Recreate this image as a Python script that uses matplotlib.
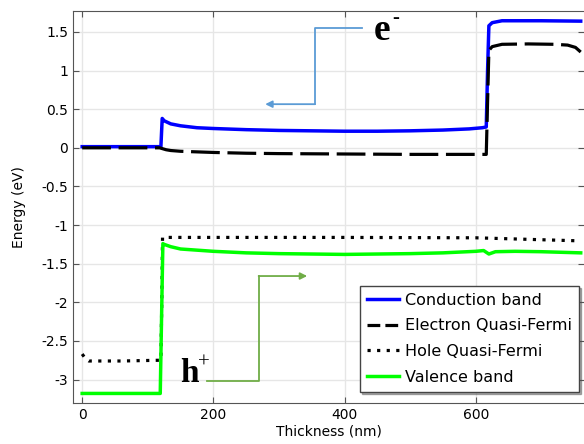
import matplotlib
matplotlib.use("Agg")
import matplotlib.pyplot as plt

plt.rcParams['font.family'] = 'DejaVu Sans'

# Band diagram values (thickness in nm, energy in eV)
cb_x = [0, 50, 100, 120, 121, 122, 125, 135, 150, 175, 200, 250, 300, 350, 400,
        450, 500, 550, 590, 610, 616, 618, 620, 625, 640, 700, 760]
cb_y = [0.015, 0.015, 0.015, 0.015, 0.2, 0.38, 0.35, 0.31, 0.285, 0.26, 0.25,
        0.235, 0.225, 0.22, 0.215, 0.215, 0.22, 0.23, 0.245, 0.26, 0.27, 1.0,
        1.58, 1.62, 1.645, 1.645, 1.64]

efn_x = [0, 50, 100, 118, 122, 128, 135, 150, 200, 250, 300, 400, 500, 616,
         618, 620, 625, 640, 680, 720, 740, 752, 760]
efn_y = [0.0, 0.0, 0.0, 0.0, -0.01, -0.025, -0.035, -0.045, -0.06, -0.07,
         -0.075, -0.08, -0.085, -0.085, 0.6, 1.26, 1.31, 1.34, 1.345, 1.34,
         1.33, 1.3, 1.24]

efp_x = [0, 5, 10, 60, 120, 121.5, 122.5, 200, 400, 600, 700, 760]
efp_y = [-2.67, -2.73, -2.76, -2.76, -2.75, -1.9, -1.16, -1.16, -1.16, -1.165,
         -1.19, -1.205]

vb_x = [0, 50, 100, 119, 121, 123, 125, 135, 150, 200, 250, 300, 400, 500, 550,
        600, 612, 620, 630, 660, 700, 760]
vb_y = [-3.18, -3.18, -3.18, -3.18, -2.2, -1.24, -1.25, -1.28, -1.31, -1.34,
        -1.36, -1.37, -1.38, -1.37, -1.36, -1.34, -1.33, -1.375, -1.345,
        -1.34, -1.345, -1.36]

# Carrier annotation paths (data coords)
e_path_x = [427, 355, 355]
e_path_y = [1.55, 1.55, 0.565]
e_arrow_end = (279, 0.565)
h_path_x = [191, 269, 269]
h_path_y = [-3.02, -3.02, -1.66]
h_arrow_end = (343, -1.66)

fig = plt.figure(figsize=(5.84, 4.44), dpi=100)
ax = fig.add_axes([0.125, 0.093, 0.875, 0.882])

ax.plot(cb_x, cb_y, color='#0000ff', lw=2.5, label='Conduction band', zorder=3)
ax.plot(efn_x, efn_y, color='black', lw=2.3, ls=(0, (9, 2.4)),
        label='Electron Quasi-Fermi', zorder=4)
ax.plot(efp_x, efp_y, color='black', lw=2.3, ls=(0, (1, 2)),
        label='Hole Quasi-Fermi', zorder=3)
ax.plot(vb_x, vb_y, color='#00ff00', lw=2.5, label='Valence band', zorder=4)

serif = dict(family='Liberation Serif', weight='bold')

# electron arrow
ax.plot(e_path_x, e_path_y, color='#5b9bd5', lw=1.3, zorder=2)
ax.annotate('', xy=e_arrow_end, xytext=(e_path_x[-1], e_path_y[-1]),
            arrowprops=dict(arrowstyle='-|>', color='#5b9bd5', lw=1.3,
                            mutation_scale=10, shrinkA=0, shrinkB=0))
ax.annotate('e', xy=(e_path_x[0], e_path_y[0]), xytext=(8, -2),
            textcoords='offset points', fontsize=27, va='center', ha='left',
            **serif)
ax.annotate('-', xy=(e_path_x[0], e_path_y[0]), xytext=(21.5, 7),
            textcoords='offset points', fontsize=15, va='center', ha='left',
            **serif)

# hole arrow
ax.plot(h_path_x, h_path_y, color='#70ad47', lw=1.3, zorder=2)
ax.annotate('', xy=h_arrow_end, xytext=(h_path_x[-1], h_path_y[-1]),
            arrowprops=dict(arrowstyle='-|>', color='#70ad47', lw=1.3,
                            mutation_scale=10, shrinkA=0, shrinkB=0))
ax.annotate('h', xy=(h_path_x[0], h_path_y[0]), xytext=(-6, -1),
            textcoords='offset points', fontsize=24, va='baseline', ha='right',
            **serif)
ax.annotate('+', xy=(h_path_x[0], h_path_y[0]), xytext=(-6.5, 13),
            textcoords='offset points', fontsize=15, va='center', ha='left',
            family='Liberation Serif')

ax.set_xlim(-14, 765)
ax.set_ylim(-3.3, 1.77)
ax.set_xticks([0, 200, 400, 600])
ax.set_yticks([-3, -2.5, -2, -1.5, -1, -0.5, 0, 0.5, 1, 1.5])
ax.set_yticklabels(['-3', '-2.5', '-2', '-1.5', '-1', '-0.5', '0', '0.5', '1', '1.5'])
ax.tick_params(direction='in', top=True, right=True, labelsize=10, length=4,
               color='#555555')
ax.grid(True, color='#e6e6e6', lw=1)
ax.set_axisbelow(True)
for s in ax.spines.values():
    s.set_color('#555555')
ax.spines['right'].set_visible(False)

ax.set_xlabel('Thickness (nm)', fontsize=10, labelpad=2)
ax.set_ylabel('Energy (eV)', fontsize=10, labelpad=11)

leg = ax.legend(loc='lower right', bbox_to_anchor=(0.99, 0.028), fontsize=11.5,
                fancybox=False, shadow=dict(ox=1.5, oy=-1.5, alpha=0.45),
                framealpha=1, edgecolor='#444444',
                handlelength=2.0, handletextpad=0.38, borderpad=0.45,
                labelspacing=0.66, borderaxespad=0)
leg.get_frame().set_linewidth(1.0)
# shorter dashes in the legend key, as in the reference
leg.get_lines()[1].set_linestyle((0, (4, 1.6)))

fig.savefig('out.png', dpi=100)
